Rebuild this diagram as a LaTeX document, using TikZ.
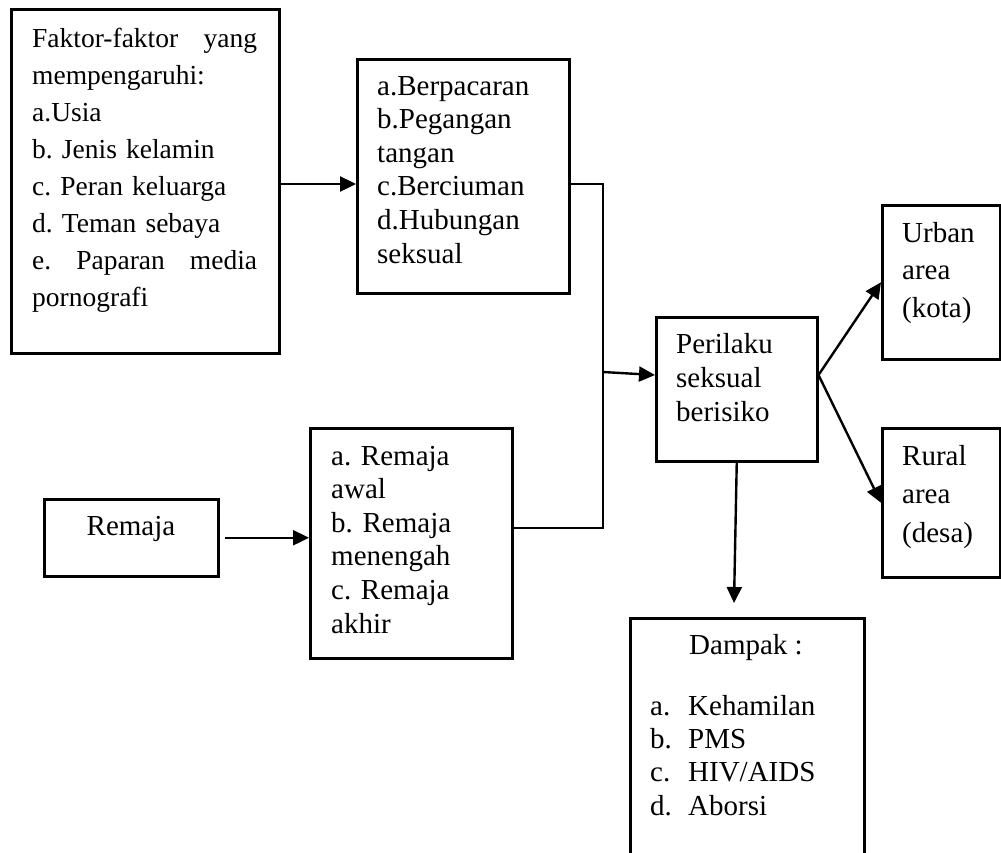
\documentclass[tikz,border=0pt]{standalone}
\usepackage{fontspec}
\setmainfont{Liberation Serif}
\usetikzlibrary{arrows.meta,calc}
\frenchspacing
\begin{document}
\begin{tikzpicture}[x=1pt,y=-1pt,
  box/.style={draw, line width=2.5pt, rectangle, inner sep=0pt, anchor=north west},
  txt/.style={anchor=base west, inner sep=0pt, align=left, text width=#1},
  arr/.style={line width=2.4pt, -{Triangle[length=16pt,width=15pt]}},
  ln/.style={line width=1.8pt}]
\useasboundingbox (0,0) rectangle (1001,852);
\clip (0,0) rectangle (1001,852);
\fill[white] (0,0) rectangle (1001,852);
% boxes
\node[box, minimum width=268pt, minimum height=344pt] (b1) at (10,8) {};
\node[box, minimum width=212pt, minimum height=234pt] (b2) at (356,58) {};
\node[box, minimum width=174pt, minimum height=77pt] (rem) at (43,498) {};
\node[box, minimum width=202pt, minimum height=230pt] (lst) at (309,427) {};
\node[box, minimum width=161pt, minimum height=144pt] (per) at (655,316) {};
\node[box, minimum width=118pt, minimum height=154pt] (urb) at (881,204) {};
\node[box, minimum width=118pt, minimum height=149pt] (rur) at (881,427) {};
\node[box, minimum width=234pt, minimum height=270pt] (dmp) at (629,617) {};
% texts
\node[txt=225pt, font={\fontsize{27.5pt}{37.1pt}\selectfont\frenchspacing}] (t1) at (32,47) {%
Faktor-faktor\hfill yang\\
mempengaruhi:\\
a.Usia\\
b. Jenis kelamin\\
c. Peran keluarga\\
d. Teman sebaya\\
e.\hfill Paparan\hfill media\\
pornografi};
\node[txt=185pt, font={\fontsize{29pt}{33.6pt}\selectfont\frenchspacing}] (t2) at (377,95) {%
a.Berpacaran\\
b.Pegangan\\
tangan\\
c.Berciuman\\
d.Hubungan\\
seksual};
\node[anchor=base, inner sep=0pt, font={\fontsize{29pt}{33.6pt}\selectfont}] (t3) at (131,535) {Remaja};
\node[txt=175pt, font={\fontsize{29pt}{33.6pt}\selectfont\frenchspacing}] (t4) at (331,465) {%
a. Remaja\\
awal\\
b. Remaja\\
menengah\\
c. Remaja\\
akhir};
\node[txt=140pt, font={\fontsize{29pt}{34pt}\selectfont}] (t5) at (676,353) {%
Perilaku\\
seksual\\
berisiko};
\node[txt=95pt, font={\fontsize{29pt}{37.5pt}\selectfont}] (t6) at (902,242) {%
Urban\\
area\\
(kota)};
\node[txt=95pt, font={\fontsize{29pt}{38.5pt}\selectfont}] (t7) at (902,465) {%
Rural\\
area\\
(desa)};
\node[anchor=base, inner sep=0pt, font={\fontsize{29pt}{33.6pt}\selectfont}] (t8) at (746,654) {Dampak :};
\node[txt=200pt, font={\fontsize{29pt}{33.4pt}\selectfont}] (t9) at (650,715) {%
\makebox[38pt][l]{a.}Kehamilan\\
\makebox[38pt][l]{b.}PMS\\
\makebox[38pt][l]{c.}HIV/AIDS\\
\makebox[38pt][l]{d.}Aborsi};
% connectors
\coordinate (b2in) at ($(b2.north west)+(0,126)$);
\coordinate (b2out) at ($(b2.north east)+(0,126)$);
\coordinate (jt) at (603,184);
\coordinate (jb) at (603,528);
\coordinate (jm) at (603,372);
\coordinate (dtip) at (734,603);
\draw[arr] (b1.east |- b2in) -- (b2in);
\draw[ln] (b2out) -- (jt) -- (jb) -- (lst.east |- jb);
\draw[arr] (jm) -- ($(per.north west)+(0,59)$);
\draw[arr] ([xshift=5pt]rem.east) -- (lst.west |- rem.east);
\draw[arr] ($(per.north east)+(0,59)$) -- (urb.west);
\draw[arr] ($(per.north east)+(0,59)$) -- (rur.west);
\draw[arr] (per.south) -- (dtip);
\end{tikzpicture}
\end{document}
